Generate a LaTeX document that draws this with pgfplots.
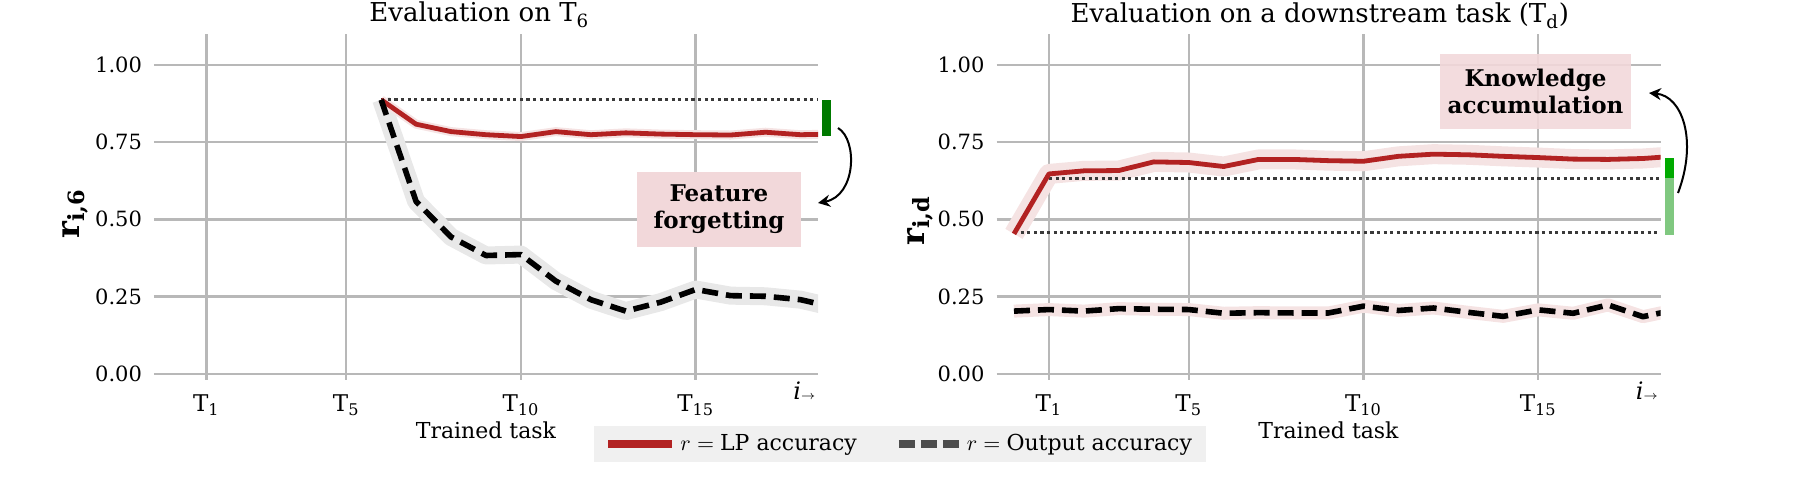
\documentclass[border=0pt]{standalone}
\usepackage{pgfplots}
\pgfplotsset{compat=1.18}
\usepackage{fontspec}
\setmainfont{DejaVu Serif}
\usetikzlibrary{arrows.meta}
\definecolor{lpred}{HTML}{B22222}
\definecolor{gridc}{HTML}{B8B8B8}
\definecolor{boxpink}{HTML}{F2D8DA}
\definecolor{bandred}{HTML}{F5E3E3}
\definecolor{bandgrey}{HTML}{E8E8E8}
\definecolor{dkgreen}{HTML}{007A00}
\definecolor{brgreen}{HTML}{00AA00}
\definecolor{ltgreen}{HTML}{80C880}
\definecolor{dotc}{HTML}{3A3A3A}
\definecolor{legbg}{HTML}{F0F0F0}
\definecolor{legdash}{HTML}{4D4D4D}

\pgfplotsset{
 myaxis/.style={
  scale only axis, width=332pt, height=173pt,
  xmin=-0.5, xmax=18.5, ymin=-0.02, ymax=1.1,
  axis line style={draw=none},
  major tick length=0pt,
  xtick={1,5,10,15},
  xticklabels={T\textsubscript{1},T\textsubscript{5},T\textsubscript{10},T\textsubscript{15}},
  ytick={0,0.25,0.5,0.75,1},
  yticklabels={0.00,0.25,0.50,0.75,1.00},
  xmajorgrids, ymajorgrids,
  major grid style={gridc, line width=1.2pt},
  yticklabel style={font=\fontsize{10.5}{12}\selectfont, xshift=-2.5pt},
  xticklabel style={font=\fontsize{11.5}{12}\selectfont, yshift=-4pt},
  clip mode=individual,
 },
 dotline/.style={dotc, line width=1.6pt, dash pattern=on 1.6pt off 1.7pt, forget plot},
 redline/.style={lpred, line width=2.4pt, line join=round},
 blkline/.style={black, line width=2.8pt, line join=round, dash pattern=on 8pt off 4pt},
}

\begin{document}
\begin{tikzpicture}
\useasboundingbox (0,0) rectangle (899.5pt,240.5pt);

% ---------------- Left axis ----------------
\begin{axis}[myaxis, at={(77pt,50.5pt)}, anchor=south west,
  legend style={at={(axis description cs:0.6627,-0.133)}, anchor=north west,
    draw=none, fill=legbg, font=\fontsize{11}{13}\selectfont,
    legend columns=2, inner xsep=5pt, inner ysep=2pt,
    /tikz/every even column/.append style={column sep=17pt}},
  legend cell align=left]
\addplot[bandgrey, line width=9pt, line join=round, forget plot] coordinates {
(6,0.887) (7,0.558) (8,0.443) (9,0.383) (10,0.386) (11,0.300) (12,0.240) (13,0.203)
(14,0.232) (15,0.273) (16,0.253) (17,0.251) (18,0.240) (19,0.214)};
\addplot[bandred, line width=4.5pt, line join=round, forget plot] coordinates {
(6,0.887) (7,0.808) (8,0.784) (9,0.774) (10,0.768) (11,0.784) (12,0.774) (13,0.780)
(14,0.776) (15,0.774) (16,0.773) (17,0.782) (18,0.774) (19,0.776)};
\addplot[dotline] coordinates {(6,0.887) (18.5,0.887)};
\addplot[redline, legend image code/.code={\draw[lpred,line width=4pt](0pt,0pt)--(32pt,0pt);}] coordinates {
(6,0.887) (7,0.808) (8,0.784) (9,0.774) (10,0.768) (11,0.784) (12,0.774) (13,0.780)
(14,0.776) (15,0.774) (16,0.773) (17,0.782) (18,0.774) (19,0.776)};
\addlegendentry{$r={}$LP accuracy}
\addplot[blkline, legend image code/.code={\draw[legdash,line width=4pt,dash pattern=on 8pt off 3pt](0pt,0pt)--(30pt,0pt);}] coordinates {
(6,0.887) (7,0.558) (8,0.443) (9,0.383) (10,0.386) (11,0.300) (12,0.240) (13,0.203)
(14,0.232) (15,0.273) (16,0.253) (17,0.251) (18,0.240) (19,0.214)};
\addlegendentry{$r={}$Output accuracy}
\fill[dkgreen] (axis cs:18.61,0.770) rectangle (axis cs:18.88,0.887);
\node[anchor=base, font=\fontsize{13}{15}\selectfont] at (axis description cs:0.49,1.0347) {Evaluation on T\textsubscript{6}};
\node[anchor=base, font=\fontsize{11}{13}\selectfont] at (axis description cs:0.5,-0.1705) {Trained task};
\node[rotate=90, anchor=center] at (axis description cs:-0.119,0.48) {\fontsize{16}{17}\selectfont\textbf{r}\textsubscript{\textbf{i,6}}};
\node[anchor=north east, inner sep=0pt, font=\fontsize{12}{13}\selectfont] at (axis description cs:0.997,-0.004) {\textit{i}$\scriptscriptstyle\rightarrow$};
\end{axis}

% ---------------- Right axis ----------------
\begin{axis}[myaxis, at={(498.25pt,50.5pt)}, anchor=south west]
\addplot[bandred, line width=10pt, line join=round, forget plot] coordinates {
(0,0.453) (1,0.647) (2,0.657) (3,0.658) (4,0.686) (5,0.684) (6,0.671) (7,0.694) (8,0.694)
(9,0.690) (10,0.688) (11,0.704) (12,0.711) (13,0.709) (14,0.704) (15,0.700) (16,0.695)
(17,0.694) (18,0.697) (19,0.705)};
\addplot[bandred, line width=6.5pt, line join=round, forget plot] coordinates {
(0,0.203) (1,0.208) (2,0.203) (3,0.211) (4,0.209) (5,0.208) (6,0.196) (7,0.198) (8,0.197)
(9,0.197) (10,0.219) (11,0.205) (12,0.213) (13,0.199) (14,0.186) (15,0.207) (16,0.196)
(17,0.223) (18,0.185) (19,0.209)};
\addplot[dotline] coordinates {(0,0.458) (18.5,0.458)};
\addplot[dotline] coordinates {(1,0.6325) (18.5,0.6325)};
\addplot[redline, forget plot] coordinates {
(0,0.453) (1,0.647) (2,0.657) (3,0.658) (4,0.686) (5,0.684) (6,0.671) (7,0.694) (8,0.694)
(9,0.690) (10,0.688) (11,0.704) (12,0.711) (13,0.709) (14,0.704) (15,0.700) (16,0.695)
(17,0.694) (18,0.697) (19,0.705)};
\addplot[blkline, forget plot] coordinates {
(0,0.203) (1,0.208) (2,0.203) (3,0.211) (4,0.209) (5,0.208) (6,0.196) (7,0.198) (8,0.197)
(9,0.197) (10,0.219) (11,0.205) (12,0.213) (13,0.199) (14,0.186) (15,0.207) (16,0.196)
(17,0.223) (18,0.185) (19,0.209)};
\fill[ltgreen] (axis cs:18.63,0.450) rectangle (axis cs:18.89,0.6325);
\fill[brgreen] (axis cs:18.63,0.6325) rectangle (axis cs:18.89,0.697);
\node[anchor=base, font=\fontsize{13}{15}\selectfont] at (axis description cs:0.487,1.032) {Evaluation on a downstream task (T\textsubscript{d})};
\node[anchor=base, font=\fontsize{11}{13}\selectfont] at (axis description cs:0.5,-0.1705) {Trained task};
\node[rotate=90, anchor=center] at (axis description cs:-0.115,0.46) {\fontsize{16}{17}\selectfont\textbf{r}\textsubscript{\textbf{i,d}}};
\node[anchor=north east, inner sep=0pt, font=\fontsize{12}{13}\selectfont] at (axis description cs:0.997,-0.004) {\textit{i}$\scriptscriptstyle\rightarrow$};
\end{axis}

% ---------------- Annotations (pixel frame) ----------------
\begin{scope}[x=0.5pt,y=-0.5pt,shift={(0pt,240.5pt)}]
\fill[boxpink] (637,172) rectangle (801,247);
\node[font=\bfseries\fontsize{11.5}{13.5}\selectfont, align=center] at (719,209) {Feature\\forgetting};
\draw[-{Stealth[length=6pt,width=6pt]}, line width=1pt] (838,128) .. controls (858,140) and (856,196) .. (818,203);
\fill[boxpink, fill opacity=0.9] (1440,54) rectangle (1631,129);
\node[font=\bfseries\fontsize{11.5}{13.5}\selectfont, align=center] at (1535.5,91) {Knowledge\\accumulation};
\draw[-{Stealth[length=6pt,width=6pt]}, line width=1pt] (1678,193) .. controls (1698,140) and (1682,96) .. (1649,93);
\end{scope}
\end{tikzpicture}
\end{document}
